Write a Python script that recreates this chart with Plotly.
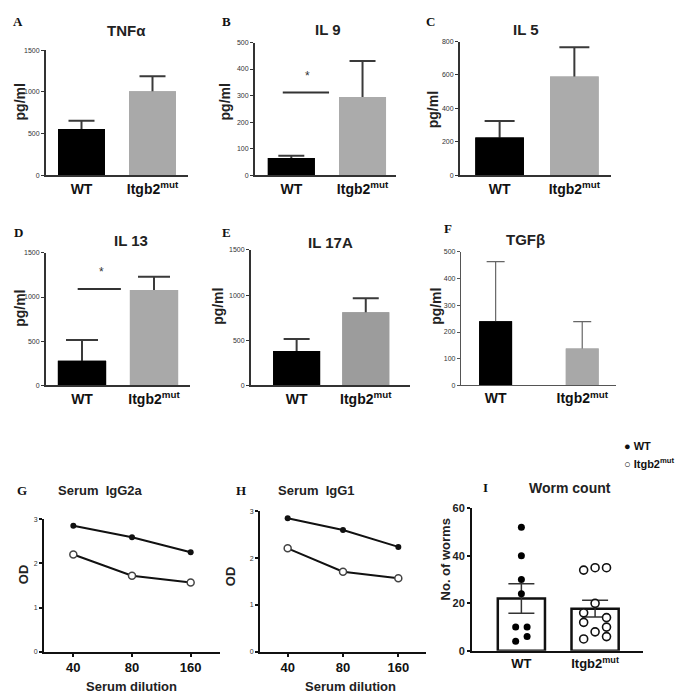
import numpy as np
import plotly.graph_objects as go

W, H = 685, 697

# ---- data ----
cytokines = ["TNFα", "IL 9", "IL 5", "IL 13", "IL 17A", "TGFβ"]
groups = ["WT", "Itgb2<sup>mut</sup>"]
wt_mean = [555, 65, 225, 280, 382, 240]
wt_err = [100, 8, 100, 235, 132, 223]
mut_mean = [1010, 295, 590, 1080, 810, 138]
mut_err = [180, 135, 175, 150, 155, 101]
y_max = [1500, 500, 800, 1500, 1500, 500]
y_step = [500, 100, 200, 500, 500, 100]

dilution = [40, 80, 160]
igg2a_wt = [2.85, 2.59, 2.25]
igg2a_mut = [2.20, 1.72, 1.57]
igg1_wt = [2.85, 2.60, 2.24]
igg1_mut = [2.21, 1.71, 1.57]

worm_wt = [52, 40, 30, 24, 10, 10, 4, 6]
worm_wt_col = [0, 0, 0, 0, -0.5, 0.5, -0.5, 0.5]
worm_mut = [34, 35, 35, 20, 16, 14, 12, 10, 8, 6, 5]
worm_mut_col = [-1, 0, 1, 0, -1, 1, -1, 1, 0, 1, -1]

# ---- layout helpers (pixel boxes: left, right, top, bottom) ----
boxes = {
    "A": (38, 180, 37, 164), "B": (247, 388, 29, 164), "C": (452, 603, 28, 164),
    "D": (38, 182, 243, 378), "E": (243, 402, 240, 378), "F": (453, 608, 242, 378),
    "G": (36, 212, 514, 649), "H": (252, 418, 506, 649), "I": (464, 635, 503, 648),
}
xr = {"A": [-0.5, 1.5], "B": [-0.51, 1.47], "C": [-0.53, 1.49], "D": [-0.5, 1.5],
      "E": [-0.66, 1.64], "F": [-0.4, 1.39], "I": [-0.67, 1.65]}
bw = {"A": 0.66, "B": 0.66, "C": 0.65, "D": 0.67, "E": 0.68, "F": 0.38, "I": 0.64}
capw = {"A": 13, "B": 13, "C": 15, "D": 16, "E": 13, "F": 9}
grey = {"A": "#a9a9a9", "B": "#ababab", "C": "#ababab", "D": "#a9a9a9", "E": "#9c9c9c", "F": "#a8a8a8"}

SANS = "Liberation Sans, Arial, sans-serif"
NARROW = "Liberation Sans Narrow, Liberation Sans, Arial, sans-serif"
SERIF = "Liberation Serif, Times New Roman, serif"

def px(x):
    return x / W

def py(y):
    return 1 - y / H

fig = go.Figure()
layout = {}
annotations = []

def add_axes(i, key, xkw, ykw):
    l, r, t, b = boxes[key]
    sx = "" if i == 1 else str(i)
    layout["xaxis" + sx] = dict(domain=[px(l), px(r)], anchor="y" + sx, **xkw)
    layout["yaxis" + sx] = dict(domain=[py(b), py(t)], anchor="x" + sx, **ykw)
    return "x" + sx, "y" + sx

def text(x, y, s, size, family=SANS, angle=0, color="#222"):
    annotations.append(dict(x=px(x), y=py(y), xref="paper", yref="paper", text=s,
                            showarrow=False, textangle=angle,
                            font=dict(size=size, family=family, color=color),
                            xanchor="center", yanchor="middle"))

letters = ["A", "B", "C", "D", "E", "F"]
for k, key in enumerate(letters):
    thin = key == "F"
    axcol = "#555" if thin else "#333"
    lw = 1.2 if thin else 2
    xa, ya = add_axes(k + 1, key,
        dict(range=xr[key], tickvals=[0, 1], ticktext=["<b>%s</b>" % g for g in groups],
             showgrid=False, zeroline=False, showline=True, linecolor=axcol, linewidth=lw,
             ticks="", tickfont=dict(size=14, family=SANS, color="#111")),
        dict(range=[0, y_max[k]], dtick=y_step[k], showgrid=False, zeroline=False,
             showline=True, linecolor=axcol, linewidth=lw, ticks="outside", ticklen=3,
             tickwidth=1.2, tickcolor=axcol,
             tickfont=dict(size=7, family=NARROW, color="#333")))
    means = [wt_mean[k], mut_mean[k]]
    errs = [wt_err[k], mut_err[k]]
    colors = ["#000000", grey[key]]
    # lower trace carries one-sided error bars, upper trace hides the stem inside the bar
    fig.add_trace(go.Bar(x=[0, 1], y=means, width=bw[key], marker=dict(color=colors, line_width=0),
                         error_y=dict(type="data", symmetric=False, array=errs, arrayminus=means,
                                      color="#666" if thin else "#3a3a3a",
                                      thickness=1.2 if thin else 2, width=capw[key]),
                         xaxis=xa, yaxis=ya, showlegend=False))
    fig.add_trace(go.Bar(x=[0, 1], y=means, width=bw[key], marker=dict(color=colors, line_width=0),
                         xaxis=xa, yaxis=ya, showlegend=False))

# significance bars (B: IL 9, D: IL 13)
for xa, ya, yv, ys, x0, x1, xs in [("x2", "y2", 312, 374, -0.12, 0.53, 0.23),
                                   ("x4", "y4", 1092, 1280, -0.06, 0.54, 0.27)]:
    layout.setdefault("shapes", []).append(dict(type="line", xref=xa, yref=ya, x0=x0, x1=x1,
                                                y0=yv, y1=yv, line=dict(color="#333", width=2)))
    annotations.append(dict(x=xs, y=ys, xref=xa, yref=ya, text="*", showarrow=False,
                            font=dict(size=12, family=SANS, color="#333")))

# ELISA line panels G, H
line_sets = [("G", igg2a_wt, igg2a_mut), ("H", igg1_wt, igg1_mut)]
for j, (key, wt, mut) in enumerate(line_sets):
    xa, ya = add_axes(7 + j, key,
        dict(type="log", range=[np.log10(40 / np.sqrt(2)), np.log10(160 * np.sqrt(2))],
             tickvals=dilution, ticktext=["<b>%d</b>" % d for d in dilution],
             showgrid=False, zeroline=False, showline=True, linecolor="#111", linewidth=2,
             ticks="outside", ticklen=3, tickwidth=1.5, tickcolor="#111",
             tickfont=dict(size=13, family=SANS, color="#111")),
        dict(range=[0, 3], dtick=1, showgrid=False, zeroline=False, showline=True,
             linecolor="#111", linewidth=2, ticks="outside", ticklen=3, tickwidth=1.5,
             tickcolor="#111", tickfont=dict(size=7, family=NARROW, color="#333")))
    fig.add_trace(go.Scatter(x=dilution, y=wt, mode="lines+markers", xaxis=xa, yaxis=ya,
                             line=dict(color="#111", width=2),
                             marker=dict(size=6, color="#111"), showlegend=False))
    fig.add_trace(go.Scatter(x=dilution, y=mut, mode="lines+markers", xaxis=xa, yaxis=ya,
                             line=dict(color="#111", width=2),
                             marker=dict(size=7, color="white", line=dict(color="#444", width=1.5)),
                             showlegend=False))

# worm count panel I
xa, ya = add_axes(9, "I",
    dict(range=xr["I"], tickvals=[0, 1], ticktext=["<b>%s</b>" % g for g in groups],
         showgrid=False, zeroline=False, showline=True, linecolor="#111", linewidth=2,
         ticks="", tickfont=dict(size=13, family=SANS, color="#111")),
    dict(range=[0, 60], dtick=20, showgrid=False, zeroline=False, showline=True,
         linecolor="#111", linewidth=2, ticks="outside", ticklen=3, tickwidth=1.5,
         tickcolor="#111", tickvals=[0, 20, 40, 60], ticktext=["<b>0</b>", "<b>20</b>", "<b>40</b>", "<b>60</b>"],
         tickfont=dict(size=11, family=SANS, color="#222")))
w_means = [np.mean(worm_wt), np.mean(worm_mut)]
w_sem = [np.std(worm_wt, ddof=1) / np.sqrt(len(worm_wt)), np.std(worm_mut, ddof=1) / np.sqrt(len(worm_mut))]
fig.add_trace(go.Bar(x=[0, 1], y=w_means, width=bw["I"],
                     marker=dict(color="white", line=dict(color="#111", width=2.5)),
                     error_y=dict(type="data", array=w_sem, color="#333", thickness=1.5, width=13),
                     xaxis=xa, yaxis=ya, showlegend=False))
fig.add_trace(go.Scatter(x=[c * 0.155 for c in worm_wt_col], y=worm_wt, mode="markers",
                         marker=dict(size=7, color="#000"), xaxis=xa, yaxis=ya, showlegend=False))
fig.add_trace(go.Scatter(x=[1 + c * 0.155 for c in worm_mut_col], y=worm_mut, mode="markers",
                         marker=dict(size=8, color="white", line=dict(color="#111", width=1.6)),
                         xaxis=xa, yaxis=ya, showlegend=False))

# ---- titles, panel letters, axis titles, legend ----
titles = [("TNFα", 118, 17), ("IL 9", 320, 16), ("IL 5", 518, 16),
          ("IL 13", 123, 230), ("IL 17A", 322, 232), ("TGFβ", 517, 229)]
for s, x, y in titles:
    text(x, y, "<b>%s</b>" % s, 15)
text(92, 485, "<b>Serum  IgG2a</b>", 13)
text(308, 485, "<b>Serum  IgG1</b>", 13)
text(562, 482, "<b>Worm count</b>", 14)

for s, x, y in [("A", 10, 8), ("B", 218, 8), ("C", 422, 8), ("D", 10, 222), ("E", 218, 222),
                ("F", 440, 218), ("G", 14, 485), ("H", 233, 485), ("I", 478, 482)]:
    text(x, y, "<b>%s</b>" % s, 13, family=SERIF, color="#111")

for x, y in [(12, 90), (217, 90), (425, 98), (12, 300), (210, 298), (428, 298)]:
    text(x, y, "<b>pg/ml</b>", 14, angle=-90)
text(15, 570, "<b>OD</b>", 13, angle=-90)
text(222, 572, "<b>OD</b>", 13, angle=-90)
text(437, 555, "<b>No. of worms</b>", 13, angle=-90)
text(123, 684, "<b>Serum dilution</b>", 13)
text(342, 684, "<b>Serum dilution</b>", 13)

annotations.append(dict(x=px(614), y=py(440), xref="paper", yref="paper", showarrow=False,
                        xanchor="left", yanchor="middle", text="<b>● WT</b>",
                        font=dict(size=11, family=SANS, color="#111")))
annotations.append(dict(x=px(614), y=py(457), xref="paper", yref="paper", showarrow=False,
                        xanchor="left", yanchor="middle", text="<b>○ Itgb2<sup>mut</sup></b>",
                        font=dict(size=11, family=SANS, color="#111")))

fig.update_layout(width=W, height=H, margin=dict(l=0, r=0, t=0, b=0),
                  paper_bgcolor="white", plot_bgcolor="white", barmode="overlay",
                  annotations=annotations, **layout)
fig.write_html("out.html")
